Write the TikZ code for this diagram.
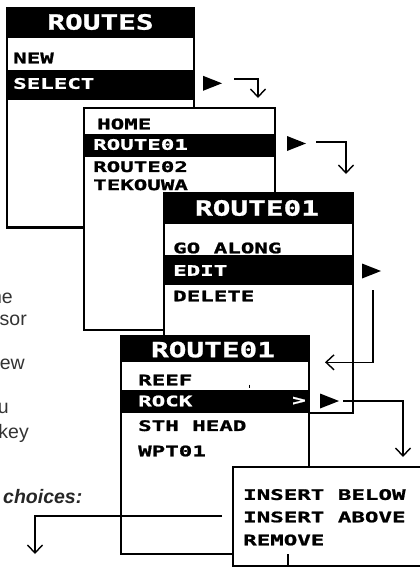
\documentclass[tikz,border=0pt]{standalone}
\usepackage{fontspec}
\setmainfont{Liberation Sans}
\newfontfamily\lcdfont[FakeStretch=1.55,FakeBold=1.2]{DejaVu Sans Mono Bold}
\newfontfamily\lcdhead[FakeStretch=1.4,FakeBold=1.2]{DejaVu Sans Mono Bold}
\usetikzlibrary{arrows.meta,calc,positioning}

\begin{document}
\begin{tikzpicture}[x=1pt,y=-1pt,
    screen/.style={draw=black,line width=2.8pt,fill=white},
    bar/.style={fill=black},
    item/.style={anchor=west,inner sep=0pt,font=\lcdfont\fontsize{14.5}{15}\selectfont},
    chosen/.style={item,text=white},
    head/.style={inner sep=0pt,text=white,font=\lcdhead\fontsize{21}{21}\selectfont},
    hint/.style={anchor=east,inner sep=0pt,text=black!80,font=\fontsize{19.5}{22}\selectfont},
    flow/.style={line width=1.4pt,-{Straight Barb[length=8pt,width=15pt]}}]
  \useasboundingbox (0,0) rectangle (420,568);
  \clip (0,0) rectangle (420,568);
  % text at the left edge
  \node[hint] (t1) at (13,298) {ne};
  \node[hint] (t2) at (27,320) {sor};
  \node[hint] (t3) at (25,364) {ew};
  \node[hint] (t4) at (9,408) {u};
  \node[hint] (t5) at (29,433) {key};
  \node[anchor=west,inner sep=0pt,text=black!85,font=\fontsize{19.5}{22}\selectfont\bfseries\itshape]
    (choices) at (3,497) {choices:};
  % screen 1
  \filldraw[screen] (7,8) rectangle (194,227.5);
  \fill[bar] (7,8) rectangle (194,38);
  \fill[bar] (7,69.6) rectangle (194,99.6);
  \node[head] (s1title) at (100.5,22) {ROUTES};
  \node[item] (s1new) at (13,58) {NEW};
  \node[chosen] (s1select) at (13,83.5) {SELECT};
  % screen 2
  \filldraw[screen] (84,108) rectangle (275,330);
  \fill[bar] (84,134) rectangle (275,156.5);
  \node[item] (s2home) at (97,124) {HOME};
  \node[chosen] (s2r1) at (93,144.5) {ROUTE01};
  \node[item] (s2r2) at (93,166.7) {ROUTE02};
  \node[item] (s2tek) at (93,184.8) {TEKOUWA};
  % screen 3
  \filldraw[screen] (164,193) rectangle (353,413);
  \fill[bar] (164,193) rectangle (353,223.5);
  \fill[bar] (164,255.4) rectangle (353,285);
  \node[head] (s3title) at (257,208) {ROUTE01};
  \node[item] (s3go) at (173,248) {GO ALONG};
  \node[chosen] (s3edit) at (173,270.5) {EDIT};
  \node[item] (s3del) at (173,296) {DELETE};
  % screen 4
  \filldraw[screen] (121,336) rectangle (309,554);
  \fill[bar] (121,336) rectangle (309,362);
  \fill[bar] (121,389.5) rectangle (309,413);
  \node[head] (s4title) at (213,349.6) {ROUTE01};
  \node[item] (s4reef) at (138,380) {REEF};
  \draw[line width=0.8pt] (249,384.5) -- (249,387.5);
  \node[chosen] (s4rock) at (138,401) {ROCK};
  \node[chosen] (s4more) at (292,401) {>};
  \node[item] (s4sth) at (138,425.7) {STH HEAD};
  \node[item] (s4wpt) at (138,451) {WPT01};
  % screen 5
  \filldraw[screen] (233,467) rectangle (426,566);
  \node[item] (s5below) at (243,494.6) {INSERT BELOW};
  \node[item] (s5above) at (243,517) {INSERT ABOVE};
  \node[item] (s5remove) at (243,540) {REMOVE};
  \draw[line width=1.4pt] (288,554) -- (288,566);
  % pointers
  \foreach \x/\y in {203/83.3,287/143.5,362/271,320/401}
    \fill (\x,\y-7.5) -- (\x+19,\y) -- (\x,\y+7.5) -- cycle;
  % arrows
  \coordinate (a1s) at (234,79);   \coordinate (a1e) at (258,98);
  \coordinate (a2s) at (316,142);  \coordinate (a2e) at (346,174);
  \coordinate (a3s) at (373,290);  \coordinate (a3e) at (325,362.3);
  \coordinate (a4s) at (343,401);  \coordinate (a4e) at (403,457);
  \coordinate (a5s) at (222,516);  \coordinate (a5e) at (35,554);
  \draw[flow] (a1s) -| (a1e);
  \draw[flow] (a2s) -| (a2e);
  \draw[flow] (a3s) |- (a3e);
  \draw[flow] (a4s) -| (a4e);
  \draw[flow] (a5s) -| (a5e);
\end{tikzpicture}
\end{document}
